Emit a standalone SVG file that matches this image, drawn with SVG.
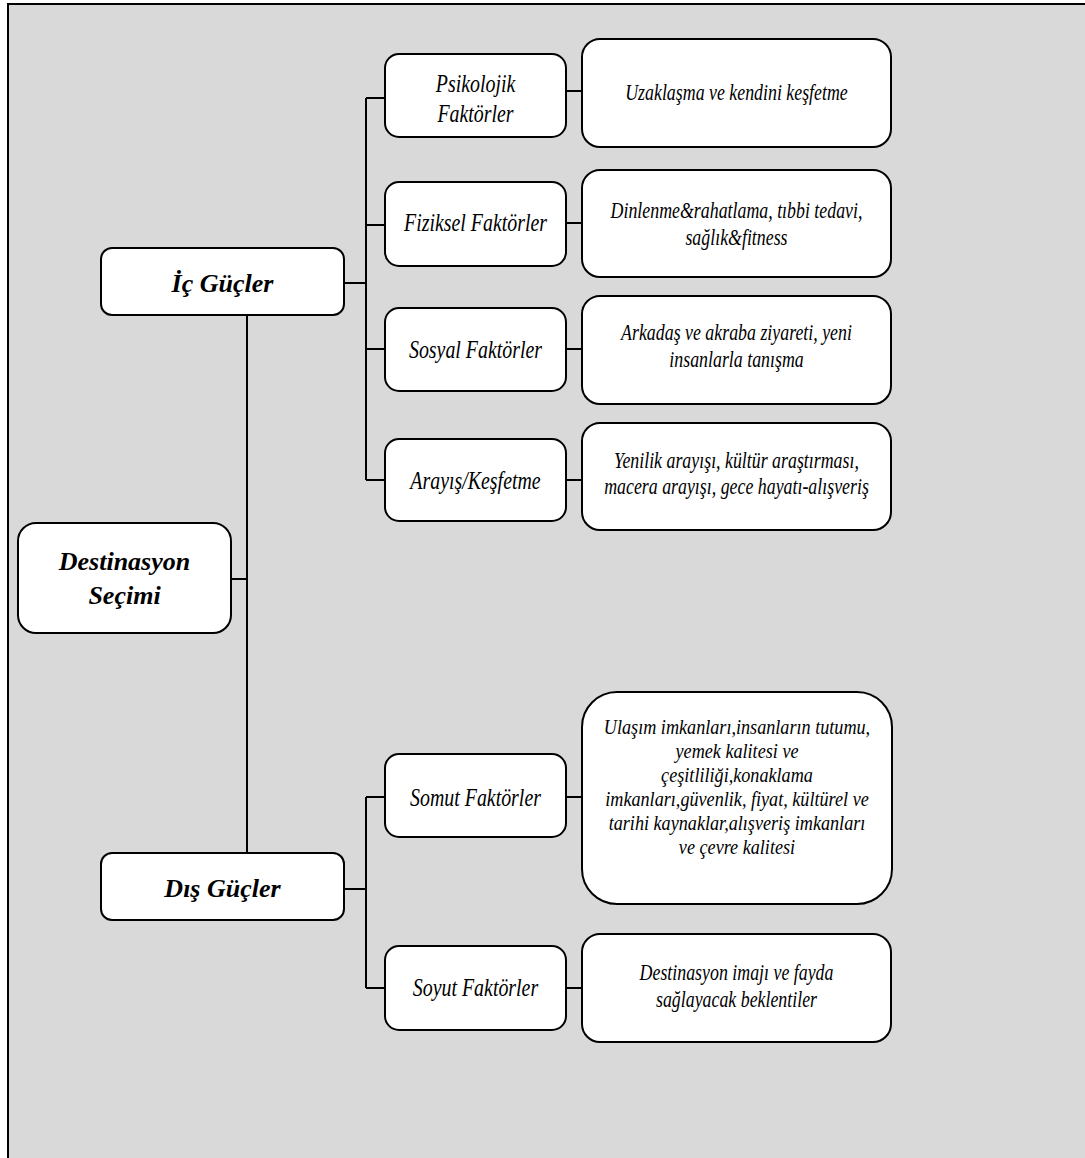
<svg xmlns="http://www.w3.org/2000/svg" width="1085" height="1158" viewBox="0 0 1085 1158">
  <style>
    .box { fill: #ffffff; stroke: #000000; stroke-width: 2; }
    .link { fill: none; stroke: #000000; stroke-width: 2; }
    .t { font-family: "Liberation Serif", "Times New Roman", serif; font-style: italic; fill: #000000; text-anchor: middle; }
    .mid { font-size: 25.5px; }
    .det { font-size: 23.5px; }
    .dense { font-size: 21.5px; }
    .head { font-size: 26px; font-weight: bold; }
  </style>

  <!-- background panel -->
  <rect x="0" y="0" width="1085" height="1158" fill="#ffffff"/>
  <rect x="8" y="4" width="1090" height="1170" fill="#d9d9d9" stroke="#000000" stroke-width="2"/>

  <!-- connectors -->
  <g id="connectors">
    <path class="link" d="M231 579 H247 M247 315 V853"/>
    <path class="link" d="M344 283 H366 M366 98 V480 M366 98 H385 M366 225 H385 M366 349 H385 M366 480 H385"/>
    <path class="link" d="M566 91 H582 M566 223 H582 M566 349 H582 M566 480 H582"/>
    <path class="link" d="M344 889 H366 M366 797 V988 M366 797 H385 M366 988 H385"/>
    <path class="link" d="M566 797 H582 M566 988 H582"/>
  </g>

  <!-- root -->
  <g id="destinasyon-secimi">
    <rect class="box" x="18" y="523" width="213" height="110" rx="18"/>
    <text class="t head" x="124.5" y="570">Destinasyon<tspan x="124.5" dy="34">Seçimi</tspan></text>
  </g>

  <!-- branches -->
  <g id="ic-gucler">
    <rect class="box" x="101" y="248" width="243" height="67" rx="11"/>
    <text class="t head" x="222.5" y="292">İç Güçler</text>
  </g>
  <g id="dis-gucler">
    <rect class="box" x="101" y="853" width="243" height="67" rx="11"/>
    <text class="t head" x="222.5" y="897">Dış Güçler</text>
  </g>

  <!-- factor groups -->
  <g id="psikolojik">
    <rect class="box" x="385" y="54" width="181" height="83" rx="14"/>
    <text class="t mid" transform="translate(475.5 92) scale(0.78 1)" x="0" y="0">Psikolojik<tspan x="0" dy="30">Faktörler</tspan></text>
  </g>
  <g id="fiziksel">
    <rect class="box" x="385" y="182" width="181" height="84" rx="14"/>
    <text class="t mid" transform="translate(475.5 231) scale(0.78 1)" x="0" y="0">Fiziksel Faktörler</text>
  </g>
  <g id="sosyal">
    <rect class="box" x="385" y="308" width="181" height="83" rx="14"/>
    <text class="t mid" transform="translate(475.5 358) scale(0.78 1)" x="0" y="0">Sosyal Faktörler</text>
  </g>
  <g id="arayis">
    <rect class="box" x="385" y="439" width="181" height="82" rx="14"/>
    <text class="t mid" transform="translate(475.5 489) scale(0.78 1)" x="0" y="0">Arayış/Keşfetme</text>
  </g>
  <g id="somut">
    <rect class="box" x="385" y="754" width="181" height="83" rx="14"/>
    <text class="t mid" transform="translate(475.5 806) scale(0.78 1)" x="0" y="0">Somut Faktörler</text>
  </g>
  <g id="soyut">
    <rect class="box" x="385" y="946" width="181" height="84" rx="14"/>
    <text class="t mid" transform="translate(475.5 996) scale(0.78 1)" x="0" y="0">Soyut Faktörler</text>
  </g>

  <!-- detail boxes -->
  <g id="psikolojik-detay">
    <rect class="box" x="582" y="39" width="309" height="108" rx="18"/>
    <text class="t det" transform="translate(736.5 100) scale(0.76 1)" x="0" y="0">Uzaklaşma ve kendini keşfetme</text>
  </g>
  <g id="fiziksel-detay">
    <rect class="box" x="582" y="170" width="309" height="107" rx="18"/>
    <text class="t det" transform="translate(736.5 218) scale(0.76 1)" x="0" y="0">Dinlenme&amp;rahatlama, tıbbi tedavi,<tspan x="0" dy="27">sağlık&amp;fitness</tspan></text>
  </g>
  <g id="sosyal-detay">
    <rect class="box" x="582" y="296" width="309" height="108" rx="18"/>
    <text class="t det" transform="translate(736.5 340) scale(0.76 1)" x="0" y="0">Arkadaş ve akraba ziyareti, yeni<tspan x="0" dy="27">insanlarla tanışma</tspan></text>
  </g>
  <g id="arayis-detay">
    <rect class="box" x="582" y="423" width="309" height="107" rx="18"/>
    <text class="t det" transform="translate(736.5 468) scale(0.76 1)" x="0" y="0">Yenilik arayışı, kültür araştırması,<tspan x="0" dy="26">macera arayışı, gece hayatı-alışveriş</tspan></text>
  </g>
  <g id="somut-detay">
    <rect class="box" x="582" y="692" width="310" height="212" rx="35"/>
    <text class="t dense" transform="translate(737 734) scale(0.845 1)" x="0" y="0">Ulaşım imkanları,insanların tutumu,<tspan x="0" dy="24">yemek kalitesi ve</tspan><tspan x="0" dy="24">çeşitliliği,konaklama</tspan><tspan x="0" dy="24">imkanları,güvenlik, fiyat, kültürel ve</tspan><tspan x="0" dy="24">tarihi kaynaklar,alışveriş imkanları</tspan><tspan x="0" dy="24">ve çevre kalitesi</tspan></text>
  </g>
  <g id="soyut-detay">
    <rect class="box" x="582" y="934" width="309" height="108" rx="18"/>
    <text class="t det" transform="translate(736.5 980) scale(0.76 1)" x="0" y="0">Destinasyon imajı ve fayda<tspan x="0" dy="27">sağlayacak beklentiler</tspan></text>
  </g>
</svg>
